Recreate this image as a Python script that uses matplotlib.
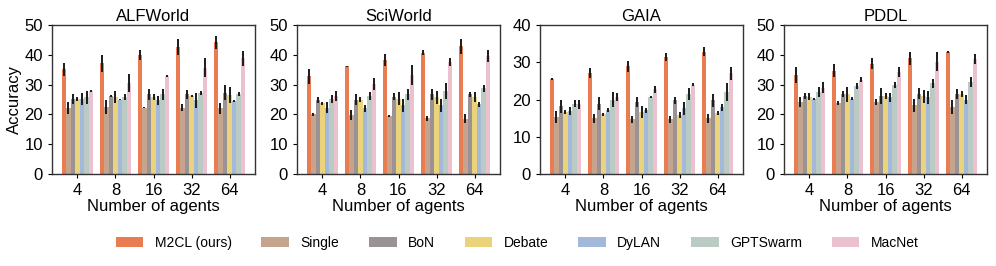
import matplotlib
matplotlib.use("Agg")
import matplotlib.pyplot as plt
import numpy as np

plt.rcParams['font.family'] = ['Liberation Sans', 'DejaVu Sans']

agents = ["4", "8", "16", "32", "64"]
methods = ["M2CL (ours)", "Single", "BoN", "Debate", "DyLAN", "GPTSwarm", "MacNet"]
colors = ["#E97C50", "#C4A48C", "#9B9296", "#EBD37C", "#A4B9D9", "#BACBC4", "#EBC1CF"]
datasets = ["ALFWorld", "SciWorld", "GAIA", "PDDL"]
ylims = [50, 50, 40, 50]

# means[dataset][method] over agent counts 4,8,16,32,64
alfworld = [
    [35.1, 37.1, 39.8, 42.6, 44.2],
    [22.3, 22.5, 22.3, 22.3, 22.0],
    [25.3, 26.1, 26.7, 26.7, 27.2],
    [25.3, 25.9, 25.8, 26.2, 26.5],
    [25.1, 25.0, 24.7, 24.8, 24.6],
    [25.7, 25.9, 26.7, 27.2, 26.8],
    [27.9, 30.4, 32.8, 35.7, 38.8],
]
alfworld_err = [
    [2.2, 2.8, 1.7, 2.6, 2.1],
    [2.0, 2.2, 0.3, 1.1, 1.7],
    [1.7, 0.3, 1.8, 1.5, 2.5],
    [0.7, 2.0, 1.0, 0.4, 2.7],
    [2.0, 0.3, 1.4, 2.5, 0.3],
    [2.1, 1.1, 1.8, 0.6, 0.6],
    [0.3, 3.0, 0.3, 3.2, 2.4],
]
sciworld = [
    [32.8, 36.1, 38.3, 40.7, 42.8],
    [20.1, 19.7, 19.5, 18.7, 18.6],
    [24.8, 25.0, 25.9, 26.8, 26.7],
    [23.7, 25.0, 25.3, 25.8, 25.9],
    [22.3, 22.0, 23.0, 23.1, 23.4],
    [25.1, 26.2, 26.7, 27.9, 28.7],
    [26.2, 30.2, 33.3, 37.6, 39.6],
]
sciworld_err = [
    [2.6, 0.3, 2.1, 0.8, 2.4],
    [0.5, 1.7, 0.3, 0.8, 1.6],
    [0.9, 1.8, 1.2, 1.8, 0.7],
    [0.6, 0.7, 2.2, 2.2, 1.7],
    [1.8, 1.1, 2.1, 2.2, 0.8],
    [1.4, 1.4, 1.7, 2.8, 1.1],
    [1.6, 2.1, 3.4, 1.3, 2.1],
]
gaia = [
    [25.5, 27.2, 28.9, 31.4, 32.8],
    [15.3, 14.9, 14.7, 14.7, 14.9],
    [18.2, 18.9, 19.3, 19.8, 19.8],
    [16.7, 16.0, 16.7, 15.8, 16.4],
    [16.9, 17.1, 17.1, 17.6, 17.9],
    [18.9, 20.0, 20.7, 21.6, 22.0],
    [18.7, 20.7, 22.7, 23.9, 27.0],
]
gaia_err = [
    [0.3, 1.3, 1.5, 1.1, 1.2],
    [1.5, 1.3, 1.0, 1.0, 1.3],
    [1.7, 1.7, 1.3, 1.0, 1.8],
    [0.6, 0.3, 1.6, 0.9, 0.6],
    [1.0, 0.5, 0.7, 1.8, 1.0],
    [1.0, 2.0, 0.3, 1.6, 2.3],
    [1.2, 1.1, 1.0, 0.4, 1.8],
]
pddl = [
    [33.2, 34.6, 37.0, 38.9, 41.0],
    [24.2, 23.7, 24.2, 23.0, 22.5],
    [26.1, 26.7, 26.1, 27.0, 26.8],
    [26.0, 26.8, 26.2, 26.1, 26.8],
    [25.3, 25.3, 25.7, 25.7, 25.0],
    [27.5, 29.5, 29.8, 30.4, 30.9],
    [29.0, 31.7, 34.2, 37.6, 38.5],
]
pddl_err = [
    [2.8, 2.2, 1.8, 2.2, 0.3],
    [1.8, 0.7, 1.1, 2.1, 2.4],
    [1.0, 1.0, 2.6, 1.7, 1.6],
    [1.2, 2.5, 1.0, 2.2, 1.0],
    [0.3, 0.6, 1.5, 2.2, 1.5],
    [1.6, 1.0, 1.1, 1.5, 1.6],
    [1.8, 0.7, 1.8, 3.2, 1.7],
]

all_means = [alfworld, sciworld, gaia, pddl]
all_errs = [alfworld_err, sciworld_err, gaia_err, pddl_err]

fig = plt.figure(figsize=(9.96, 2.66), dpi=100)
W, H = 996, 266
lefts = [52, 297, 540, 784]
axw = 203
bottom, top = 174, 25

x = np.arange(len(agents))
bw = 0.12
handles = []
for d in range(4):
    ax = fig.add_axes([lefts[d] / W, 1 - bottom / H, axw / W, (bottom - top) / H])
    for m in range(len(methods)):
        offs = (m - 3) * bw
        b = ax.bar(x + offs, all_means[d][m], bw, color=colors[m], label=methods[m],
                   yerr=all_errs[d][m], error_kw=dict(ecolor="#1a1a1a", elinewidth=1.4, capsize=0))
        if d == 0:
            handles.append(b)
    ax.set_xlim(-0.67, 4.67)
    ax.set_ylim(0, ylims[d])
    ax.set_xticks(x)
    ax.set_xticklabels(agents)
    ax.set_yticks(np.arange(0, ylims[d] + 1, 10))
    ax.tick_params(labelsize=12, length=3)
    ax.set_title(datasets[d], fontsize=12, pad=3)
    ax.set_xlabel("Number of agents", fontsize=12, labelpad=1)
    if d == 0:
        ax.set_ylabel("Accuracy", fontsize=12, labelpad=2)
    for s in ax.spines.values():
        s.set_linewidth(1.0)
        s.set_color("#333333")

fig.legend(handles, methods, loc="center", bbox_to_anchor=(517 / W, 1 - 243 / H), ncol=7,
           frameon=False, fontsize=10, handlelength=2.0, columnspacing=2.15, handletextpad=0.8)

fig.savefig("out.png", dpi=100)
